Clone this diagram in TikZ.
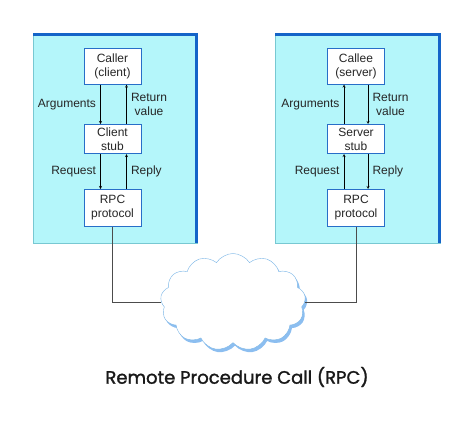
\documentclass[tikz,border=0pt]{standalone}
\usepackage{fontspec}
\setmainfont{Liberation Sans}
\newfontfamily\titlefont[FakeBold=1.5]{Poppins}
\usetikzlibrary{shapes.symbols,shadows}

\definecolor{panelfill}{RGB}{180,246,250}
\definecolor{paneledge}{RGB}{120,200,210}
\definecolor{paneltop}{RGB}{20,100,200}
\definecolor{boxedge}{RGB}{40,110,200}
\definecolor{cloudedge}{RGB}{120,180,230}
\definecolor{cloudshade}{RGB}{140,190,240}

\tikzset{
  block/.style={draw=boxedge,fill=white,line width=1pt,minimum width=57pt,
    align=center,inner sep=0pt,font=\fontsize{12}{14}\selectfont,text=black!85},
  lbl/.style={font=\fontsize{12}{13.5}\selectfont,align=center,text=black!85},
  wire/.style={draw=black!70,line width=0.7pt},
}

\begin{document}
\begin{tikzpicture}[x=1pt,y=-1pt,>=stealth]
      \useasboundingbox (0,0) rectangle (474,421);
      % client side
      \fill[panelfill,draw=paneledge] (33,33) rectangle (197,243);
      \draw[paneltop,line width=3pt] (33,34.5) -| (196.5,243);
      \node[block,minimum height=36pt] (caller) at (112.5,66) {Caller\\(client)};
      \node[block,minimum height=29pt] (cstub) at (112.5,139) {Client\\stub};
      \node[block,minimum height=37pt] (crpc) at (112.5,208) {RPC\\protocol};
      \draw[->] ([xshift=-12pt]caller.south) -- node[lbl,left=1pt]{Arguments}
        ([xshift=-12pt]cstub.north);
      \draw[<-] ([xshift=14pt]caller.south) -- node[lbl,right=1pt]{Return\\value}
        ([xshift=14pt]cstub.north);
      \draw[->] ([xshift=-12pt]cstub.south) -- node[lbl,left=1pt]{Request}
        ([xshift=-12pt]crpc.north);
      \draw[<-] ([xshift=14pt]cstub.south) -- node[lbl,right=1pt]{Reply}
        ([xshift=14pt]crpc.north);
      % server side
      \fill[panelfill,draw=paneledge] (275,33) rectangle (440,243);
      \draw[paneltop,line width=3pt] (275,34.5) -| (439.5,243);
      \node[block,minimum height=36pt] (callee) at (356,66) {Callee\\(server)};
      \node[block,minimum height=29pt] (sstub) at (356,139) {Server\\stub};
      \node[block,minimum height=37pt] (srpc) at (356,208) {RPC\\protocol};
      \draw[<-] ([xshift=-12pt]callee.south) -- node[lbl,left=1pt]{Arguments}
        ([xshift=-12pt]sstub.north);
      \draw[->] ([xshift=12pt]callee.south) -- node[lbl,right=1pt]{Return\\value}
        ([xshift=12pt]sstub.north);
      \draw[<-] ([xshift=-12pt]sstub.south) -- node[lbl,left=1pt]{Request}
        ([xshift=-12pt]srpc.north);
      \draw[->] ([xshift=12pt]sstub.south) -- node[lbl,right=1pt]{Reply}
        ([xshift=12pt]srpc.north);
      % network
      \node[cloud,cloud puffs=13,cloud puff arc=115,aspect=1.45,draw=cloudedge,
        fill=white,minimum width=145pt,minimum height=97pt,
        drop shadow={fill=cloudshade,opacity=1,shadow xshift=2pt,shadow yshift=-3pt}]
        (net) at (233,302) {};
      \draw[wire] (crpc.south) |- (net.west);
      \draw[wire] (srpc.south) |- (net.east);
      \node[font=\titlefont\fontsize{18}{20}\selectfont,text=black!90] (title) at (237,377)
        {Remote Procedure Call (RPC)};
\end{tikzpicture}
\end{document}
